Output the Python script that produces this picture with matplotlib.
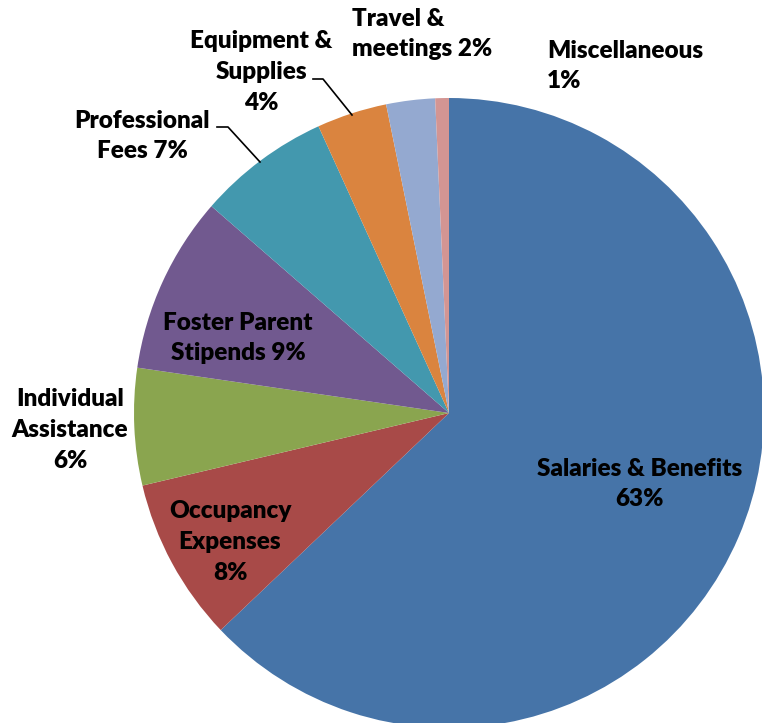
import matplotlib
matplotlib.use("Agg")
import matplotlib.pyplot as plt

# share of spending by category (percent), clockwise from 12 o'clock
categories = ["Salaries & Benefits", "Occupancy Expenses", "Individual Assistance",
              "Foster Parent Stipends", "Professional Fees", "Equipment & Supplies",
              "Travel & meetings", "Miscellaneous"]
shares = [62.9, 8.4, 6.0, 9.1, 6.8, 3.6, 2.5, 0.7]
label_text = ["Salaries & Benefits\n63%", "Occupancy\nExpenses\n8%", "Individual\nAssistance\n6%",
              "Foster Parent\nStipends 9%", "Professional\nFees 7%", "Equipment &\nSupplies\n4%",
              "Travel &\nmeetings 2%", "Miscellaneous\n1%"]
colors = ["#4674A8", "#A84A48", "#8AA54F", "#71598F", "#4398AE", "#DA843F", "#94A9D0", "#D39593"]

W, H = 762, 723
CX, CY, R = 449, 413, 315


def px(x, y):
    # pixel position (from top-left) -> data coords of the pie
    return (x - CX) / R, (CY - y) / R


fig = plt.figure(figsize=(W / 100, H / 100), dpi=100)
ax = fig.add_axes([0, 0, 1, 1])
ax.pie(shares, colors=colors, startangle=90, counterclock=False, radius=1,
       wedgeprops=dict(linewidth=0))
ax.set_aspect("auto")
ax.set_xlim(-CX / R, (W - CX) / R)
ax.set_ylim((CY - H) / R, CY / R)
ax.axis("off")

font = dict(family="Lato", fontweight="heavy", fontsize=17.5, color="black",
            linespacing=1.5)

# label anchor (pixels), horizontal alignment
label_pos = [(640, 484, "center"), (230, 542, "center"), (70, 430, "center"),
             (238, 338, "center"), (142, 136, "center"), (261, 72, "center"),
             (352, 34, "left"), (547, 66, "left")]
for txt, (x, y, ha) in zip(label_text, label_pos):
    tx, ty = px(x, y)
    ax.text(tx, ty, txt, ha=ha, va="center", multialignment=ha, **font)

# leader lines
for pts in ([(313, 79), (323, 79), (352, 115)], [(217, 127), (228, 127), (260, 162)]):
    xs, ys = zip(*[px(a, b) for a, b in pts])
    ax.plot(xs, ys, color="black", linewidth=1.2)

fig.savefig("out.png", dpi=100)
